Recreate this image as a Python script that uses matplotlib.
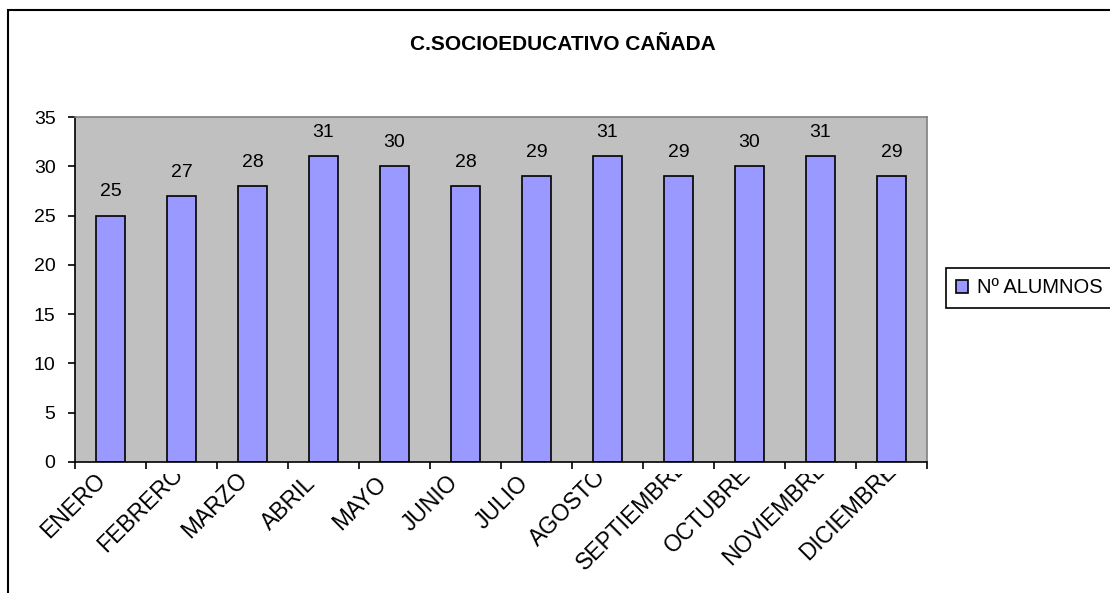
import numpy as np
import matplotlib
matplotlib.use("Agg")
import matplotlib.pyplot as plt
from matplotlib.patches import Rectangle
from matplotlib.transforms import Bbox, TransformedBbox, ScaledTranslation

plt.rcParams['font.family'] = ['Liberation Sans', 'DejaVu Sans']

meses = ["ENERO", "FEBRERO", "MARZO", "ABRIL", "MAYO", "JUNIO", "JULIO",
         "AGOSTO", "SEPTIEMBRE", "OCTUBRE", "NOVIEMBRE", "DICIEMBRE"]
alumnos = [25, 27, 28, 31, 30, 28, 29, 31, 29, 30, 31, 29]
titulo = "C.SOCIOEDUCATIVO CAÑADA"
serie = "Nº ALUMNOS"

W, H = 1110, 593
fig = plt.figure(figsize=(W / 100, H / 100), dpi=100)
ax = fig.add_axes([75 / W, (H - 462) / H, (927 - 75) / W, (462 - 117) / H])

ax.set_facecolor("#C0C0C0")
x = np.arange(len(meses))
bars = ax.bar(x, alumnos, width=0.4, color="#9999FF", edgecolor="black",
              linewidth=1.2, label=serie, zorder=2)
ax.bar_label(bars, padding=11, fontsize=14)

ax.set_xlim(-0.5, len(meses) - 0.5)
ax.set_ylim(0, 35)
ax.set_yticks(np.arange(0, 36, 5))

# marcas en los limites de categoria, etiquetas en el centro
ax.set_xticks(np.arange(-0.5, len(meses)), labels=[])
ax.set_xticks(x, labels=meses, minor=True)
ax.tick_params(axis='x', which='major', direction='out', length=5, width=1.2)
ax.tick_params(axis='x', which='minor', length=0, pad=2, labelsize=16.5)
ax.tick_params(axis='y', direction='out', length=5, width=1.2, pad=9, labelsize=14)

for s in ["left", "bottom"]:
    ax.spines[s].set_color("black")
    ax.spines[s].set_linewidth(1.2)
for s in ["top", "right"]:
    ax.spines[s].set_color("#808080")
    ax.spines[s].set_linewidth(1.2)

fig.text(563 / W, 1 - 45 / H, titulo, ha="center", va="center",
         fontsize=15, fontweight="bold")

leg = fig.legend(loc="center left", bbox_to_anchor=(946 / W, 1 - 288 / H),
                 fontsize=14.5, frameon=True, fancybox=False, framealpha=1,
                 edgecolor="black", handlelength=0.6, handleheight=0.6,
                 handletextpad=0.45, borderpad=0.5, borderaxespad=0)
leg.get_frame().set_linewidth(1.2)

# etiquetas giradas 45 grados, desbordadas y recortadas como en Excel
labs = ax.get_xticklabels(minor=True)
for lab in labs:
    lab.set_rotation(45)
    lab.set_ha("right")
    lab.set_va("top")
    lab.set_rotation_mode("anchor")
fig.canvas.draw()
rend = fig.canvas.get_renderer()
anchos = [lab.get_window_extent(rend).width for lab in labs]
w0 = min(anchos)
clip = TransformedBbox(Bbox([[0, 0], [1, (H - 474) / H]]), fig.transFigure)
for lab, w in zip(labs, anchos):
    s = 0.3 * (w - w0)
    off = ScaledTranslation((-20 + s) / 100, (-7 + s) / 100, fig.dpi_scale_trans)
    lab.set_transform(lab.get_transform() + off)
    lab.set_clip_box(clip)
    lab.set_clip_on(True)

# marco exterior del grafico
fig.add_artist(Rectangle((8 / W, -0.1), 1.2, 1.1 - 10 / H, transform=fig.transFigure,
                         fill=False, edgecolor="black", linewidth=1.5))

fig.savefig("out.png", dpi=100)
